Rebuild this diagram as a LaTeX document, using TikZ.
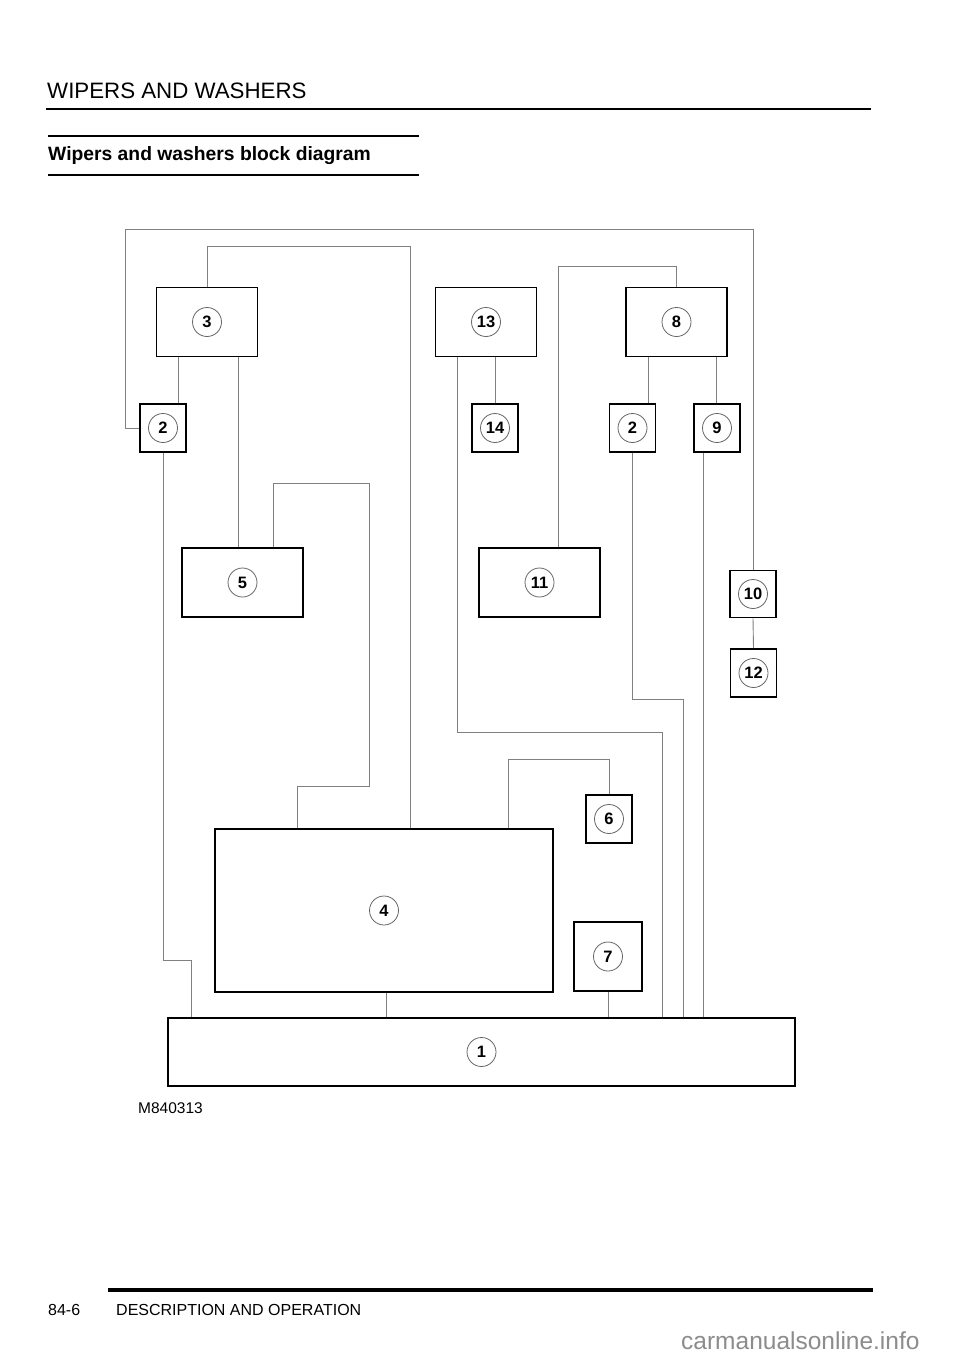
\documentclass[tikz,border=0pt]{standalone}
\usepackage{fontspec}
\setmainfont{Liberation Sans}
\usetikzlibrary{positioning}
\definecolor{wireg}{gray}{0.50}
\definecolor{ringg}{gray}{0.40}
\definecolor{markg}{gray}{0.55}
\newcommand{\fs}[1]{\fontsize{#1}{#1}\selectfont}

\begin{document}
\begin{tikzpicture}[
  x=1pt, y=-1pt,
  tag/.style={circle, draw=ringg, line width=0.8pt, minimum size=29pt, inner sep=0pt,
    font=\fs{16.5}\bfseries},
  unit/.style={rectangle, draw=black, line width=1.8pt, inner sep=0pt,
    label={[tag]center:#1}},
  bigunit/.style={unit=#1, minimum width=101pt, minimum height=69pt},
  wideunit/.style={unit=#1, minimum width=121pt, minimum height=69pt},
  smallunit/.style={unit=#1, minimum width=46pt, minimum height=48pt},
  wire/.style={draw=wireg, line width=0.9pt},
  pagetext/.style={anchor=base west, inner sep=0pt}
]
\fill[white] (0,0) rectangle (960,1358);
\useasboundingbox (0,0) rectangle (960,1358);

% page header and footer
\node[pagetext, font=\fs{22.3}] (runhead) at (47,98) {WIPERS AND WASHERS};
\draw[line width=2.7pt] (46,109) -- (871,109);
\draw[line width=2pt] (48,135.5) -- (419,135.5);
\node[pagetext, font=\fs{19.3}\bfseries] (title) at (48,160.5) {Wipers and washers block diagram};
\draw[line width=2pt] (48,174.5) -- (419,174.5);
\node[pagetext, font=\fs{15.5}] (figref) at (138,1113) {M840313};
\draw[line width=3.5pt] (108,1290) -- (873,1290);
\node[pagetext, font=\fs{16}] (pageno) at (48,1315) {84-6};
\node[pagetext, font=\fs{16}] (section) at (116,1315) {DESCRIPTION AND OPERATION};
\node[pagetext, font=\fs{24.5}, text=markg] (mark) at (681,1349) {carmanualsonline.info};

% units
\node[bigunit=3] (b3) at (207,322) {};
\node[bigunit=13] (b13) at (486,322) {};
\node[bigunit=8] (b8) at (676.5,322) {};
\node[smallunit=2] (b2l) at (163,428) {};
\node[smallunit=14] (b14) at (495,428) {};
\node[smallunit=2] (b2r) at (632.5,428) {};
\node[smallunit=9] (b9) at (717,428) {};
\node[wideunit=5] (b5) at (242.5,582.5) {};
\node[wideunit=11] (b11) at (539.5,582.5) {};
\node[smallunit=10, minimum height=47pt] (b10) at (753,594) {};
\node[smallunit=12] (b12) at (753.5,673) {};
\node[smallunit=6] (b6) at (609,819) {};
\node[unit=4, minimum width=338pt, minimum height=163pt] (b4) at (384,910.5) {};
\node[unit=7, minimum width=68pt, minimum height=69pt] (b7) at (608,956.5) {};
\node[unit=1, minimum width=627pt, minimum height=68pt] (b1) at (481.5,1052) {};

% wiring
\draw[wire] (b2l.west) -| (125,229) -| (b10.north);
\draw[wire] (b3.north) |- (410,246) -- (410,0 |- b4.north);
\draw[wire] (178,0 |- b3.south) -- (178,0 |- b2l.north);
\draw[wire] (238,0 |- b3.south) -- (238,0 |- b5.north);
\draw[wire] (273,0 |- b5.north) |- (369,483) |- (297,786) -- (297,0 |- b4.north);
\draw[wire] (b2l.south) |- (191,960) -- (191,0 |- b1.north);
\draw[wire] (457,0 |- b13.south) |- (662,732) -- (662,0 |- b1.north);
\draw[wire] (b14.north |- b13.south) -- (b14.north);
\draw[wire] (558,0 |- b11.north) |- (b8.north |- 0,266) -- (b8.north);
\draw[wire] (648,0 |- b8.south) -- (648,0 |- b2r.north);
\draw[wire] (716,0 |- b8.south) -- (716,0 |- b9.north);
\draw[wire] (b2r.south) |- (683,699) -- (683,0 |- b1.north);
\draw[wire] (703,0 |- b9.south) -- (703,0 |- b1.north);
\draw[wire] (b10.south) -- (b12.north);
\draw[wire] (508,0 |- b4.north) |- (b6.north |- 0,759) -- (b6.north);
\draw[wire] (386,0 |- b4.south) -- (386,0 |- b1.north);
\draw[wire] (b7.south) -- (b7.south |- b1.north);

\end{tikzpicture}
\end{document}
